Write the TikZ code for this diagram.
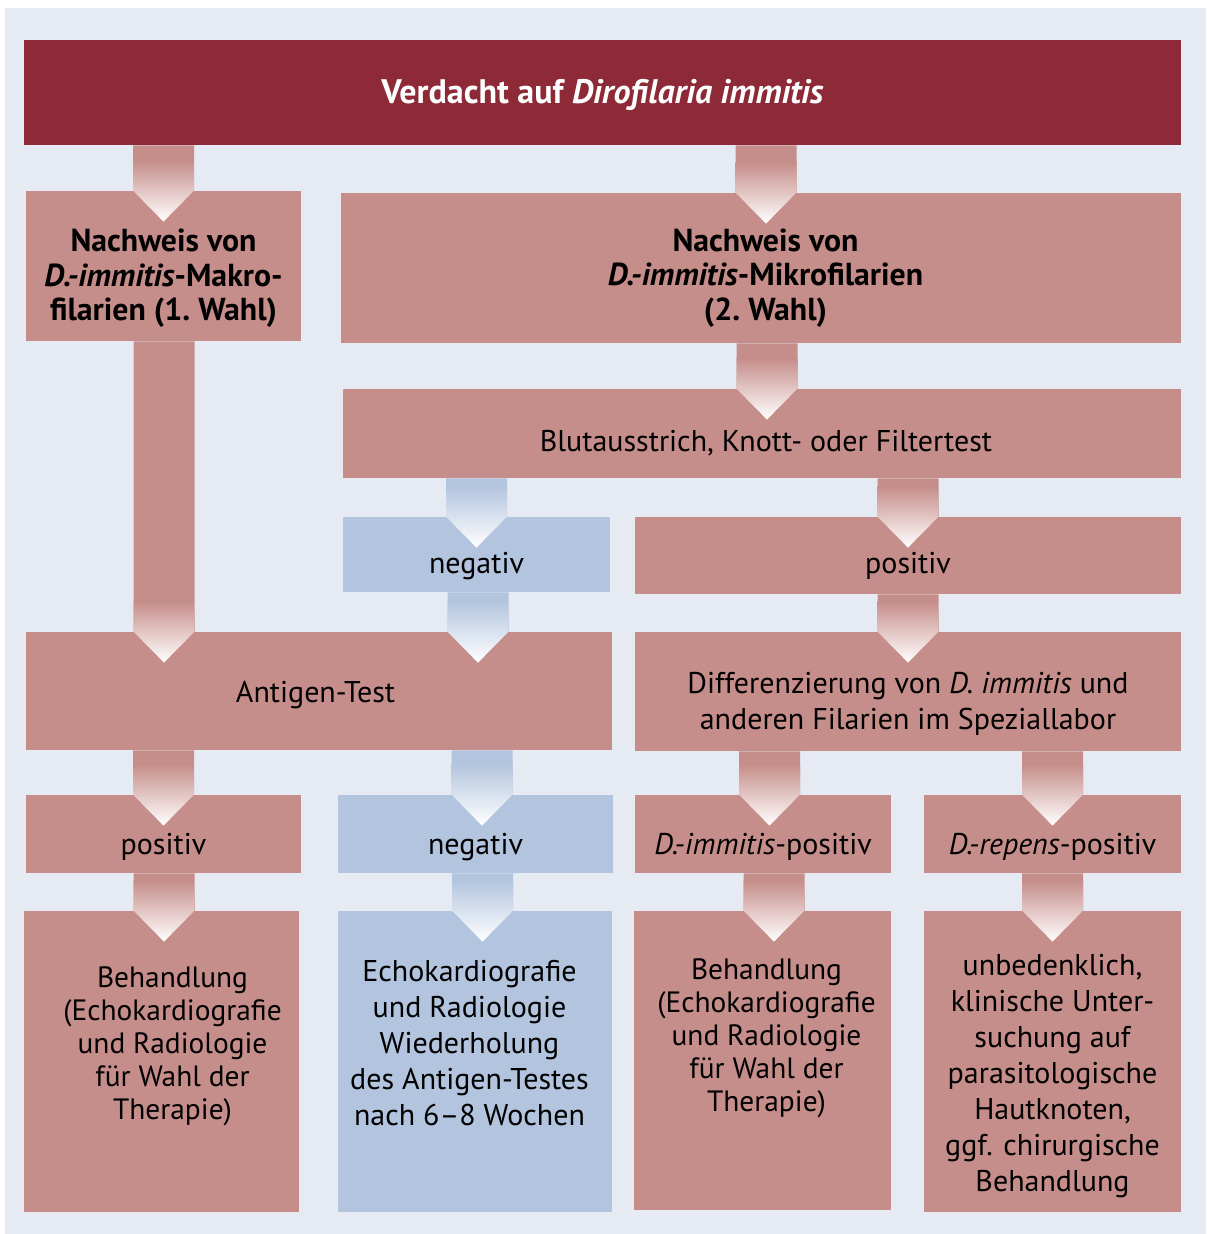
\documentclass[tikz,border=0pt]{standalone}
\usepackage{fontspec}
\setmainfont{PT Sans}
\usetikzlibrary{calc,positioning}
\definecolor{bgblue}{HTML}{E6EAF3}
\definecolor{darkred}{HTML}{8E2A37}
\definecolor{rose}{HTML}{C68E8A}
\definecolor{lightblue}{HTML}{B3C5DE}

\tikzset{
  box/.style 2 args={rectangle, fill=rose, inner sep=0pt, minimum width=#1, minimum height=#2},
  bluebox/.style 2 args={box={#1}{#2}, fill=lightblue},
  txt/.style={align=center, inner sep=0pt, font=\fontsize{15}{18}\selectfont},
  smalltxt/.style={txt, font=\fontsize{14.7}{16.5}\selectfont},
  boldtxt/.style={txt, font=\fontsize{15.9}{17.25}\selectfont\bfseries}
}

% arrow from box #1 into box #2, shifted by #3 (px), colour #4
\newcommand{\flowarrow}[4]{
  \coordinate (ah) at ([xshift=#3*0.5pt]#2.north);
  \coordinate (as) at (#1.south -| ah);
  \fill[#4] ([xshift=-15.25pt]as) -- ([xshift=15.25pt]as) -- ([xshift=15.25pt]ah)
    -- ([yshift=-15.5pt]ah) -- ([xshift=-15.25pt]ah) -- cycle;
  \begin{scope}
    \clip ([xshift=-15.25pt]as) -- ([xshift=15.25pt]as) -- ([xshift=15.25pt]ah)
      -- ([yshift=-15.5pt]ah) -- ([xshift=-15.25pt]ah) -- cycle;
    \shade[top color=#4, bottom color=white] ([xshift=-16pt,yshift=15pt]ah) rectangle ([xshift=16pt,yshift=-15.5pt]ah);
  \end{scope}
}

\begin{document}
\begin{tikzpicture}[x=0.5pt,y=-0.5pt]
\useasboundingbox (0,0) rectangle (1206,1234);
\fill[bgblue] (5,8) rectangle (1206,1234);

%boxes
\node[box={578.5pt}{52.5pt}, fill=darkred] (verdacht) at (602.5,92.5) {};
\node[box={137.5pt}{75pt}] (makro) at (163.5,266) {};
\node[box={420pt}{75pt}] (mikro) at (761,268) {};
\node[box={419pt}{44.5pt}] (blut) at (762,433.5) {};
\node[bluebox={133.5pt}{37.5pt}] (neg1) at (476.5,554.5) {};
\node[box={273pt}{38.5pt}] (pos1) at (908,555.5) {};
\node[box={293pt}{59pt}] (antigen) at (319,691) {};
\node[box={273pt}{59.5pt}] (diff) at (908,691.5) {};
\node[box={137.5pt}{39pt}] (pos2) at (163.5,834) {};
\node[bluebox={137.5pt}{39pt}] (neg2) at (475.5,834) {};
\node[box={128pt}{39pt}] (dimm) at (763,834) {};
\node[box={128.5pt}{39pt}] (drep) at (1052.5,834) {};
\node[box={137.5pt}{150.5pt}] (beh1) at (161.5,1061.5) {};
\node[bluebox={137pt}{150.5pt}] (wdh) at (475,1061.5) {};
\node[box={128.5pt}{149.5pt}] (beh2) at (762.5,1060.5) {};
\node[box={128.5pt}{150.5pt}] (haut) at (1052.5,1061.5) {};

%arrows
\foreach \src/\dst/\dx/\col in {verdacht/makro/0/rose, verdacht/mikro/5/rose, mikro/blut/5/rose,
  blut/neg1/0/lightblue, blut/pos1/0/rose, makro/antigen/-155/rose, neg1/antigen/159/lightblue,
  pos1/diff/0/rose, antigen/pos2/0/rose, antigen/neg2/6.5/lightblue, diff/dimm/6.5/rose,
  diff/drep/0/rose, pos2/beh1/2.5/rose, neg2/wdh/7.5/lightblue, dimm/beh2/11.5/rose, drep/haut/0/rose}
  \flowarrow{\src}{\dst}{\dx}{\col};

%texts
\node[boldtxt, text=white, font=\fontsize{17}{18}\selectfont\bfseries] (t-verdacht) at ([shift={(0,2)}]verdacht) {Verdacht auf \textit{Dirofilaria immitis}};
\node[boldtxt] (t-makro) at ([shift={(0,12.5)}]makro) {Nachweis von\\\textit{D.-immitis}-Makro-\\filarien (1.~Wahl)};
\node[boldtxt] (t-mikro) at ([shift={(4.5,10)}]mikro) {Nachweis von\\\textit{D.-immitis}-Mikrofilarien\\(2.~Wahl)};
\node[txt] (t-blut) at ([shift={(4,9.5)}]blut) {Blutausstrich, Knott- oder Filtertest};
\node[txt] (t-neg1) at ([shift={(0,11.5)}]neg1) {negativ};
\node[txt] (t-pos1) at ([shift={(0,10.5)}]pos1) {positiv};
\node[txt] (t-antigen) at ([shift={(-3.5,4)}]antigen) {Antigen-Test};
\node[txt] (t-diff) at ([shift={(0,12)}]diff) {Differenzierung von \textit{D. immitis} und\\anderen Filarien im Speziallabor};
\node[txt] (t-pos2) at ([shift={(0,13)}]pos2) {positiv};
\node[txt] (t-neg2) at ([shift={(0,13)}]neg2) {negativ};
\node[txt] (t-dimm) at ([shift={(0,13)}]dimm) {\textit{D.-immitis}-positiv};
\node[txt] (t-drep) at ([shift={(0,13)}]drep) {\textit{D.-repens}-positiv};
\node[smalltxt] (t-beh1) at ([shift={(11,-15)}]beh1) {Behandlung\\(Echokardiografie\\und Radiologie\\für Wahl der\\Therapie)};
\node[txt] (t-wdh) at ([shift={(-5.5,-18.5)}]wdh) {Echokardiografie\\und Radiologie\\Wiederholung\\des Antigen-Testes\\nach 6--8 Wochen};
\node[smalltxt] (t-beh2) at ([shift={(4,-22)}]beh2) {Behandlung\\(Echokardiografie\\und Radiologie\\für Wahl der\\Therapie)};
\node[txt] (t-haut) at ([shift={(0,14.5)}]haut) {unbedenklich,\\klinische Unter-\\suchung auf\\parasitologische\\Hautknoten,\\ggf. chirurgische\\Behandlung};
\end{tikzpicture}
\end{document}
